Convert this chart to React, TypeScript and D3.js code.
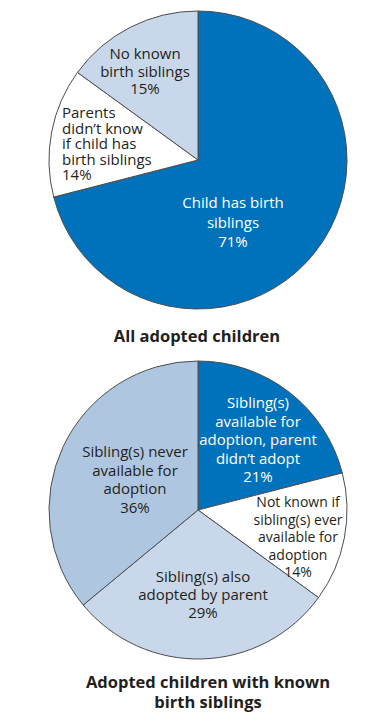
import React from "react";
import * as d3 from "d3";

// top pie: all adopted children
const topCats = ["Child has birth siblings", "Parents didn't know if child has birth siblings", "No known birth siblings"];
const topVals = [71, 14, 15];
const topLines = [
  ["Child has birth", "siblings", "71%"],
  ["Parents", "didn\u2019t know", "if child has", "birth siblings", "14%"],
  ["No known", "birth siblings", "15%"],
];

// bottom pie: adopted children with known birth siblings
const botCats = [
  "Sibling(s) available for adoption, parent didn't adopt",
  "Not known if sibling(s) ever available for adoption",
  "Sibling(s) also adopted by parent",
  "Sibling(s) never available for adoption",
];
const botVals = [21, 14, 29, 36];
const botLines = [
  ["Sibling(s)", "available for", "adoption, parent", "didn\u2019t adopt", "21%"],
  ["Not known if", "sibling(s) ever", "available for", "adoption", "14%"],
  ["Sibling(s) also", "adopted by parent", "29%"],
  ["Sibling(s) never", "available for", "adoption", "36%"],
];

const titles = ["All adopted children", "Adopted children with known", "birth siblings"];

const W = 391, H = 724, R = 149;
const FONT = "'Open Sans', 'Noto Sans', sans-serif";

// label layout: first baseline offset from pie centre, line height, anchor
const topLayout = [
  { dx: 35, dy: 48, lh: 19.5, fs: 15, anchor: "middle", color: "#fff" },
  { dx: -136, dy: -42, lh: 15.5, fs: 15, anchor: "start", color: "#231f20" },
  { dx: -53, dy: -101, lh: 17.5, fs: 15, anchor: "middle", color: "#231f20" },
];
const botLayout = [
  { dx: 60, dy: -102, lh: 18.5, fs: 15, anchor: "middle", color: "#fff" },
  { dx: 100, dy: -3, lh: 17.5, fs: 14, anchor: "middle", color: "#231f20" },
  { dx: 5, dy: 72, lh: 18, fs: 15, anchor: "middle", color: "#231f20" },
  { dx: -63, dy: -53, lh: 18.5, fs: 15, anchor: "middle", color: "#231f20" },
];

function Pie({ cx, cy, cats, vals, colors, lines, layout }: any) {
  const pie = d3.pie<number>().sort(null).startAngle(0).endAngle(2 * Math.PI);
  const arcs = pie(vals);
  const arc = d3.arc<d3.PieArcDatum<number>>().innerRadius(0).outerRadius(R);
  return (
    <g transform={`translate(${cx},${cy})`}>
      {arcs.map((a, i) => (
        <path key={cats[i]} d={arc(a) || ""} fill={colors[i]} stroke="#4d4d4d" strokeWidth={1} />
      ))}
      {lines.map((ls: string[], i: number) => {
        const L = layout[i];
        return (
          <text key={i} fontFamily={FONT} fontSize={L.fs} fill={L.color} textAnchor={L.anchor}>
            {ls.map((t, j) => (
              <tspan key={j} x={L.dx} y={L.dy + j * L.lh}>{t}</tspan>
            ))}
          </text>
        );
      })}
    </g>
  );
}

export default function App() {
  return (
    <svg width={W} height={H} style={{ position: "absolute", left: 0, top: 0, background: "#fff" }}>
      <Pie cx={198} cy={160} cats={topCats} vals={topVals}
        colors={["#0072bc", "#ffffff", "#c9d7ea"]} lines={topLines} layout={topLayout} />
      <Pie cx={198} cy={510} cats={botCats} vals={botVals}
        colors={["#0072bc", "#ffffff", "#c9d7ea", "#afc6e1"]} lines={botLines} layout={botLayout} />
      <text x={197} y={342} textAnchor="middle" fontFamily={FONT} fontWeight={700} fontSize={16.5} fill="#231f20">{titles[0]}</text>
      <text x={208} y={688} textAnchor="middle" fontFamily={FONT} fontWeight={700} fontSize={16.5} fill="#231f20">{titles[1]}</text>
      <text x={208} y={708} textAnchor="middle" fontFamily={FONT} fontWeight={700} fontSize={16.5} fill="#231f20">{titles[2]}</text>
    </svg>
  );
}
